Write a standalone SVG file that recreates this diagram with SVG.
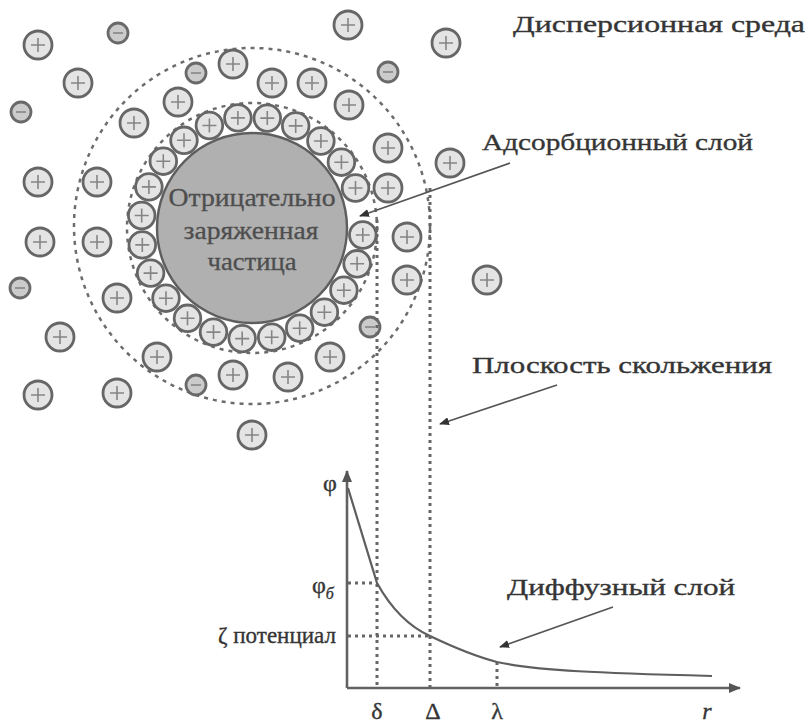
<svg xmlns="http://www.w3.org/2000/svg" xmlns:xlink="http://www.w3.org/1999/xlink" width="807" height="723" viewBox="0 0 807 723">
  <style>
    .lbl { font-family: "Liberation Serif", "DejaVu Serif", serif; fill: #353535; stroke: #353535; stroke-width: 0.35; }
    .core { font-family: "Liberation Serif", "DejaVu Serif", serif; fill: #4e4e4e; stroke: #4e4e4e; stroke-width: 0.3; font-size: 25px; }
    .dash-ring { fill: none; stroke: #6c6c6c; stroke-width: 2.5; stroke-dasharray: 4 5; }
    .guide { fill: none; stroke: #666; stroke-width: 3; stroke-dasharray: 3 4; }
    .axis { fill: none; stroke: #626262; stroke-width: 2.6; }
    .curve { fill: none; stroke: #5e5e5e; stroke-width: 2.2; }
    .pointer { fill: none; stroke: #555; stroke-width: 1.7; }
    .ion { fill: #e4e4e4; stroke: #666; stroke-width: 2.8; }
    .anion { fill: #cbcbcb; stroke: #696969; stroke-width: 2.8; }
    .sign { stroke: #858585; stroke-width: 1.6; fill: none; }
  </style>
  <defs>
    <!-- cation (free) -->
    <g id="cation">
      <circle r="14" class="ion"/>
      <path d="M-7 0H7M0 -7V7" class="sign"/>
    </g>
    <!-- cation bound in the adsorption layer -->
    <g id="bound">
      <circle r="13.3" class="ion"/>
      <path d="M-7 0H7M0 -7V7" class="sign"/>
    </g>
    <!-- anion -->
    <g id="anion">
      <circle r="10" class="anion"/>
      <path d="M-5 0H5" class="sign"/>
    </g>
    <marker id="tip" viewBox="0 0 10 8" refX="9" refY="4" markerWidth="10" markerHeight="8" markerUnits="userSpaceOnUse" orient="auto">
      <path d="M0 0L10 4L0 8z" fill="#333"/>
    </marker>
    <marker id="axtip" viewBox="0 0 12 10" refX="11" refY="5" markerWidth="12" markerHeight="10" markerUnits="userSpaceOnUse" orient="auto">
      <path d="M0 0L12 5L0 10z" fill="#555"/>
    </marker>
  </defs>

  <rect width="807" height="723" fill="#fff"/>

  <!-- boundary of the diffuse layer -->
  <circle id="diffuse-boundary" cx="252" cy="226" r="178" class="dash-ring"/>

  <!-- ions of the dispersion medium -->
  <g id="free-ions">
    <use href="#cation" x="348" y="25"/>
    <use href="#cation" x="446" y="43"/>
    <use href="#cation" x="38" y="45"/>
    <use href="#cation" x="233" y="64"/>
    <use href="#cation" x="272" y="83"/>
    <use href="#cation" x="312" y="83"/>
    <use href="#cation" x="78" y="83"/>
    <use href="#cation" x="178" y="102"/>
    <use href="#cation" x="349" y="105"/>
    <use href="#cation" x="134" y="123"/>
    <use href="#cation" x="388" y="148"/>
    <use href="#cation" x="450" y="163"/>
    <use href="#cation" x="38" y="182"/>
    <use href="#cation" x="97" y="182"/>
    <use href="#cation" x="388" y="188"/>
    <use href="#cation" x="40" y="242"/>
    <use href="#cation" x="97" y="242"/>
    <use href="#cation" x="407" y="237"/>
    <use href="#cation" x="407" y="280"/>
    <use href="#cation" x="487" y="280"/>
    <use href="#cation" x="117" y="298"/>
    <use href="#cation" x="60" y="337"/>
    <use href="#cation" x="157" y="357"/>
    <use href="#cation" x="330" y="357"/>
    <use href="#cation" x="38" y="395"/>
    <use href="#cation" x="117" y="393"/>
    <use href="#cation" x="233" y="375"/>
    <use href="#cation" x="288" y="377"/>
    <use href="#cation" x="252" y="435"/>
    <use href="#anion" x="118" y="33"/>
    <use href="#anion" x="196" y="73"/>
    <use href="#anion" x="388" y="72"/>
    <use href="#anion" x="21" y="112"/>
    <use href="#anion" x="20" y="288"/>
    <use href="#anion" x="370" y="327"/>
    <use href="#anion" x="196" y="385"/>
  </g>

  <!-- adsorption layer -->
  <g id="adsorption-layer">
    <circle cx="252" cy="228" r="125" class="dash-ring"/>
    <use href="#bound" x="362.8" y="235.0"/>
    <use href="#bound" x="357.1" y="263.8"/>
    <use href="#bound" x="343.9" y="290.2"/>
    <use href="#bound" x="324.4" y="312.2"/>
    <use href="#bound" x="299.7" y="328.2"/>
    <use href="#bound" x="271.7" y="337.2"/>
    <use href="#bound" x="242.2" y="338.6"/>
    <use href="#bound" x="213.5" y="332.1"/>
    <use href="#bound" x="187.5" y="318.3"/>
    <use href="#bound" x="166.0" y="298.2"/>
    <use href="#bound" x="150.6" y="273.1"/>
    <use href="#bound" x="142.3" y="244.9"/>
    <use href="#bound" x="141.7" y="215.5"/>
    <use href="#bound" x="148.9" y="186.9"/>
    <use href="#bound" x="163.3" y="161.2"/>
    <use href="#bound" x="184.0" y="140.3"/>
    <use href="#bound" x="209.4" y="125.5"/>
    <use href="#bound" x="237.9" y="117.9"/>
    <use href="#bound" x="267.3" y="118.1"/>
    <use href="#bound" x="295.7" y="125.9"/>
    <use href="#bound" x="320.9" y="141.0"/>
    <use href="#bound" x="341.4" y="162.2"/>
    <use href="#bound" x="355.5" y="188.0"/>
  </g>

  <!-- charged core -->
  <g id="particle">
    <circle cx="252" cy="228" r="95" fill="#b0b0b0" stroke="#5e5e5e" stroke-width="2.4"/>
    <text class="core" x="252" y="206" text-anchor="middle" textLength="167" lengthAdjust="spacingAndGlyphs">Отрицательно</text>
    <text class="core" x="251" y="239" text-anchor="middle" textLength="135" lengthAdjust="spacingAndGlyphs">заряженная</text>
    <text class="core" x="252" y="270" text-anchor="middle" textLength="89" lengthAdjust="spacingAndGlyphs">частица</text>
  </g>

  <!-- guide lines dropped to the graph -->
  <g id="guides">
    <line x1="377" y1="220" x2="377" y2="688" class="guide"/>
    <line x1="430" y1="188" x2="430" y2="688" class="guide"/>
    <line x1="497" y1="662" x2="497" y2="688" class="guide"/>
    <line x1="348" y1="583" x2="377" y2="583" class="guide"/>
    <line x1="348" y1="636" x2="430" y2="636" class="guide"/>
  </g>

  <!-- labels -->
  <g id="labels">
    <text class="lbl" x="513" y="32" font-size="24" textLength="292" lengthAdjust="spacingAndGlyphs">Дисперсионная среда</text>
    <text class="lbl" x="482" y="150" font-size="24" textLength="271" lengthAdjust="spacingAndGlyphs">Адсорбционный слой</text>
    <text class="lbl" x="472" y="373" font-size="24" textLength="300" lengthAdjust="spacingAndGlyphs">Плоскость скольжения</text>
    <text class="lbl" x="507" y="595" font-size="24" textLength="228" lengthAdjust="spacingAndGlyphs">Диффузный слой</text>
  </g>

  <!-- pointers -->
  <g id="connectors">
    <line x1="510" y1="163" x2="360" y2="216" class="pointer" marker-end="url(#tip)"/>
    <line x1="557" y1="385" x2="440" y2="424" class="pointer" marker-end="url(#tip)"/>
    <line x1="613" y1="607" x2="500" y2="647" class="pointer" marker-end="url(#tip)"/>
  </g>

  <!-- potential vs distance -->
  <g id="graph">
    <path d="M347 688V471" class="axis" marker-end="url(#axtip)"/>
    <path d="M347 688H740" class="axis" marker-end="url(#axtip)"/>
    <path d="M348 488L377 583C392 610 410 627 430 636C455 648 478 657 497 662C540 671 600 673 712 676" class="curve"/>
    <text class="lbl" x="330" y="491" font-size="24" text-anchor="middle">φ</text>
    <text class="lbl" x="312" y="593" font-size="24">φ<tspan font-size="16" font-style="italic" dy="6">б</tspan></text>
    <text class="lbl" x="336" y="643" font-size="23" text-anchor="end" textLength="118" lengthAdjust="spacingAndGlyphs">ζ потенциал</text>
    <text class="lbl" x="377" y="719" font-size="24" text-anchor="middle">δ</text>
    <text class="lbl" x="433" y="719" font-size="24" text-anchor="middle">Δ</text>
    <text class="lbl" x="497" y="719" font-size="24" text-anchor="middle">λ</text>
    <text class="lbl" x="707" y="719" font-size="24" font-style="italic" text-anchor="middle">r</text>
  </g>
</svg>
